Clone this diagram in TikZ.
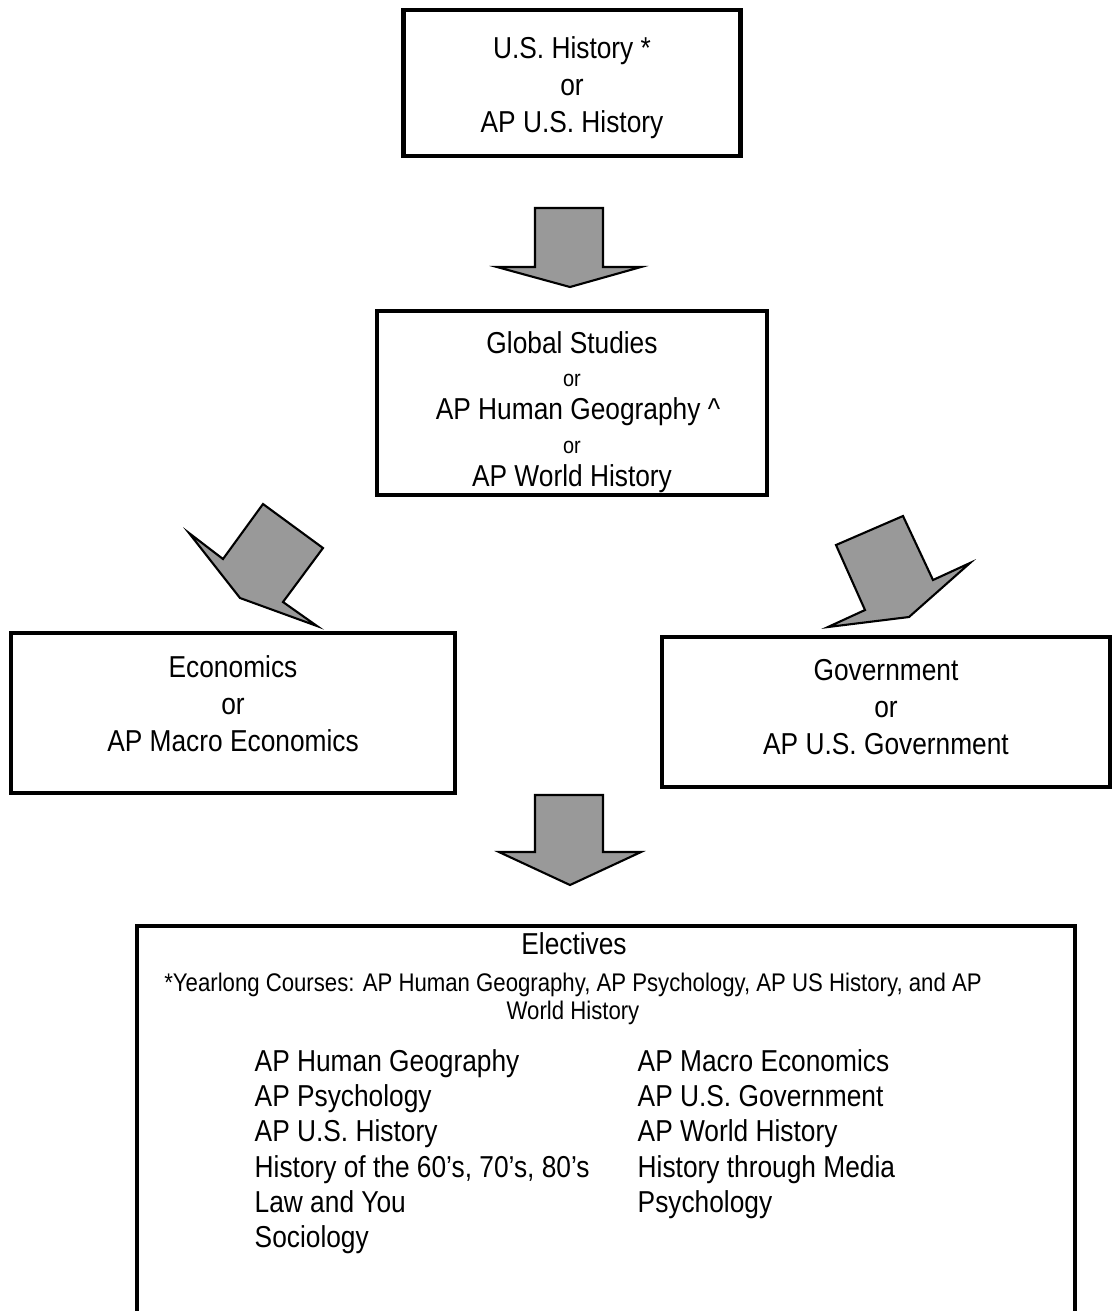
\documentclass[tikz,border=0pt]{standalone}
\usepackage{fontspec}
\setmainfont{Liberation Sans}[FakeStretch=0.87]
\definecolor{arrowfill}{RGB}{153,153,153}
\newcommand\orsize{\fontsize{6.5}{9.5}\selectfont}

\begin{document}
\begin{tikzpicture}[x=0.01cm, y=-0.01cm,
   coursebox/.style={draw, line width=1.2pt, inner sep=0pt},
   coursetext/.style={align=center, inner sep=0pt,
                  font=\fontsize{8.6}{10.5}\selectfont},
   blockarrow/.style={draw, fill=arrowfill, line width=0.6pt, line join=miter},
   listcol/.style={anchor=north west, align=left, inner sep=0pt,
                   font=\fontsize{8.6}{10}\selectfont}]

\useasboundingbox (0,0) rectangle (1113,1311);

% boxes
\node[coursebox, minimum width=3.37cm, minimum height=1.46cm] (ushist) at (572,83) {};
\node[coursebox, minimum width=3.90cm, minimum height=1.84cm] (global) at (572,403) {};
\node[coursebox, minimum width=4.43cm, minimum height=1.60cm] (econ) at (233,713) {};
\node[coursebox, minimum width=4.48cm, minimum height=1.50cm] (gov) at (886,712) {};
\node[coursebox, anchor=north, minimum width=9.38cm, minimum height=4.10cm] (electives) at (606,924) {};

% box texts
\node[coursetext] (ushisttext) at ([yshift=-0.05cm]ushist.center)
    {U.S. History *\\or\\AP U.S. History};
\node[coursetext, font=\fontsize{8.6}{9.5}\selectfont] (globaltext) at ([yshift=-0.09cm]global.center)
    {Global Studies\\{\orsize or}\\\hspace*{0.12cm}AP Human Geography \textasciicircum\\{\orsize or}\\AP World History};
\node[coursetext] (econtext) at ([yshift=0.095cm]econ.center)
    {Economics\\or\\AP Macro Economics};
\node[coursetext] (govtext) at ([yshift=0.045cm]gov.center)
    {Government\\or\\AP U.S. Government};

% block arrows
\draw[blockarrow] (535,208) -- (603,208) -- (603,267) -- (641,267) -- (570,287)
    -- (497,267) -- (535,267) -- cycle;
\draw[blockarrow] (263,504) -- (323,548) -- (283,602) -- (317,626) -- (240,598)
    -- (189,533) -- (223,559) -- cycle;
\draw[blockarrow] (836,545) -- (903,516) -- (933,580) -- (970,563) -- (909,617)
    -- (828,627) -- (865,610) -- cycle;
\draw[blockarrow] (535,795) -- (603,795) -- (603,852) -- (641,852) -- (570,885)
    -- (499,852) -- (535,852) -- cycle;

% electives text
\node[coursetext] (elhead) at (574,944) {Electives};
\node[align=center, inner sep=0pt, font=\fontsize{7.25}{8}\selectfont] (yearlong) at (573,999)
    {*Yearlong Courses: AP Human Geography, AP Psychology, AP US History, and AP\\World History};
\node[listcol] (leftlist) at (254,1049)
    {AP Human Geography\\AP Psychology\\AP U.S. History\\History of the 60’s, 70’s, 80’s\\Law and You\\Sociology};
\node[listcol] (rightlist) at (637,1049)
    {AP Macro Economics\\AP U.S. Government\\AP World History\\History through Media\\Psychology};

\end{tikzpicture}
\end{document}
